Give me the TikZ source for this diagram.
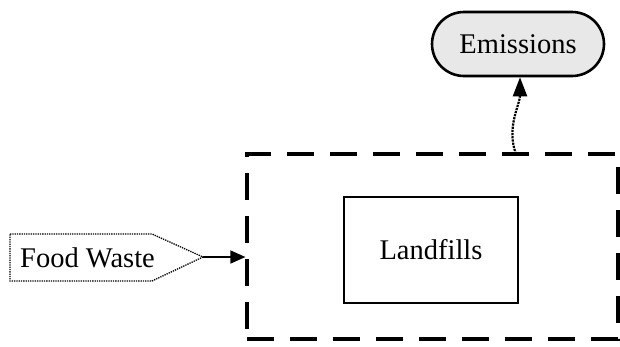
\documentclass[tikz,border=0pt]{standalone}
\usepackage{fontspec}
\setmainfont{Liberation Serif}
\usetikzlibrary{shapes.misc,arrows.meta}
\begin{document}
\begin{tikzpicture}[x=1pt,y=-1pt,
  every node/.style={font=\fontsize{28.5}{33}\selectfont, inner sep=0pt},
  process/.style={draw, line width=1.4pt, minimum width=174pt, minimum height=106pt},
  boundary/.style={draw, line width=3.2pt, dash pattern=on 27pt off 16pt, minimum width=371pt, minimum height=185pt},
  terminal/.style={draw, rounded rectangle, line width=2.6pt, fill=gray!18, minimum width=172pt, minimum height=64pt},
  inflow/.style={draw, densely dotted, line width=1.3pt, line join=miter},
  flow/.style={line width=1.5pt, -{Triangle[length=15pt,width=13pt]}},
  release/.style={line width=2.2pt, densely dotted, -{Triangle[length=19pt,width=14pt]}}
]
\useasboundingbox (0,0) rectangle (620,346);
\node[boundary] (box) at (432.5,246.5) {};
\node[process] (land) at (431,250) {Landfills};
\node[terminal] (em) at (518,44) {Emissions};
% input arrow-shaped tag
\node (fw) at (87.5,258) {Food Waste};
\coordinate (fwtip) at (203,257);
\draw[inflow] (10,234) -- (152,234) -- (fwtip) -- (152,281) -- (10,281) -- cycle;
\coordinate (ems) at (516,154);
\draw[flow] (fwtip) -- (fwtip -| box.west);
\draw[release] (ems) .. controls (506,128) and (520,104) .. (em.south -| 520,0);
\end{tikzpicture}
\end{document}
